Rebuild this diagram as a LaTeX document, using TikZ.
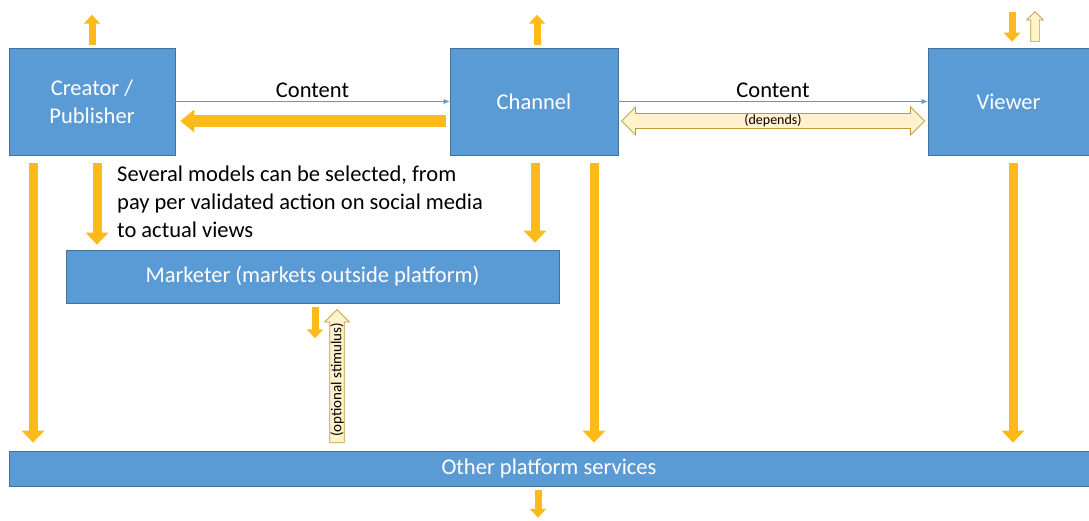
\documentclass[tikz,border=0pt]{standalone}
\usepackage{fontspec}
\setmainfont{Carlito}
\usetikzlibrary{arrows.meta,shapes.arrows,calc}
\definecolor{boxblue}{HTML}{5B9BD5}
\definecolor{boxedge}{HTML}{41719C}
\definecolor{gold}{HTML}{FDBA1A}
\definecolor{paleyellow}{HTML}{FFF2CC}
\definecolor{paleedge}{HTML}{C09A3A}
\begin{document}
\begin{tikzpicture}[
        x=1pt, y=-1pt,
        every node/.style = {font=\fontsize{22.5}{28}\selectfont},
        box/.style = {shape=rectangle, draw=boxedge, line width=0.6pt,
          fill=boxblue, text=white, align=center, inner sep=0pt},
        feed/.style = {draw=boxblue, line width=0.8pt,
          -{Latex[length=6pt,width=5pt]}},
        flow/.style = {draw=gold, line width=9pt,
          -{Triangle[width=22pt,length=12pt]}},
        stub/.style = {draw=gold, line width=7pt,
          -{Triangle[width=16pt,length=9pt]}},
        hollow/.style = {draw=paleedge, fill=paleyellow, line width=0.7pt,
          inner sep=0.3pt, font=\fontsize{15}{17}\selectfont}
        ]
    \useasboundingbox (0,0) rectangle (1089,521);
    % boxes
    \node (creator) [box, minimum width=166pt, minimum height=107pt] at (92,101.5) {Creator /\\Publisher};
    \node (channel) [box, minimum width=168pt, minimum height=107pt] at (534,101.5) {Channel};
    \node (viewer) [box, minimum width=161pt, minimum height=107pt] at (1008.5,101.5) {Viewer};
    \node (mkt) [box, minimum width=493pt, minimum height=53pt] at (312.5,276.5) {Marketer (markets outside platform)};
    \node (other) [box, minimum width=1080pt, minimum height=35pt] at (549,468.5) {Other platform services};
    \node (models) [anchor=north west, align=left, inner sep=0pt] at (117,166)
        {Several models can be selected, from\\pay per validated action on social media\\to actual views};
    % content
    \draw[feed] (creator.east) -- node[above, text=black] {Content} (channel.west);
    \draw[feed] (channel.east) -- node[above, text=black] {Content} (viewer.west);
    \draw[flow, line width=12pt, -{Triangle[width=22pt,length=14pt]}]
        ([xshift=-4pt,yshift=-19.5pt]channel.west) -- ([xshift=5pt,yshift=-19.5pt]creator.east);
    \node (depends) [hollow, double arrow, minimum height=303pt, minimum width=28pt,
        double arrow head extend=6pt, font=\fontsize{14}{16}\selectfont]
        at ($(channel.east)!0.5!(viewer.west)+(0,19.5)$) {(depends)};
    % outputs
    \draw[stub] ([yshift=3pt]creator.north) -- ++(0,-30);
    \draw[stub] ([xshift=3pt,yshift=3pt]channel.north) -- ++(0,-30);
    \draw[stub] ([xshift=3.5pt,yshift=36pt]viewer.north) -- ++(0,30);
    \node (feedback) [hollow, single arrow, rotate=90, anchor=tail, minimum height=30pt,
        minimum width=16pt, single arrow head extend=4pt, inner sep=4pt] at (1035,42) {};
    \draw[stub] ([xshift=2.5pt,yshift=-4pt]mkt.south) -- ++(0,31);
    \draw[stub] ([xshift=-11pt,yshift=-3.5pt]other.south) -- ++(0,28);
    \node (stimulus) [hollow, single arrow, rotate=90, anchor=tail, minimum height=133pt,
        minimum width=24pt, single arrow head extend=5pt] at (337,443) {(optional stimulus)};
    % to marketer and other services
    \draw[flow, shorten <=8pt, shorten >=5pt] (97,0 |- creator.south) -- (97,0 |- mkt.north);
    \draw[flow, shorten <=8pt, shorten >=7pt] (535,0 |- channel.south) -- (535,0 |- mkt.north);
    \foreach \x/\src in {33/creator, 594/channel, 1013/viewer}
        \draw[flow, shorten <=8pt, shorten >=8pt] (\x,0 |- \src.south) -- (\x,0 |- other.north);
\end{tikzpicture}
\end{document}
